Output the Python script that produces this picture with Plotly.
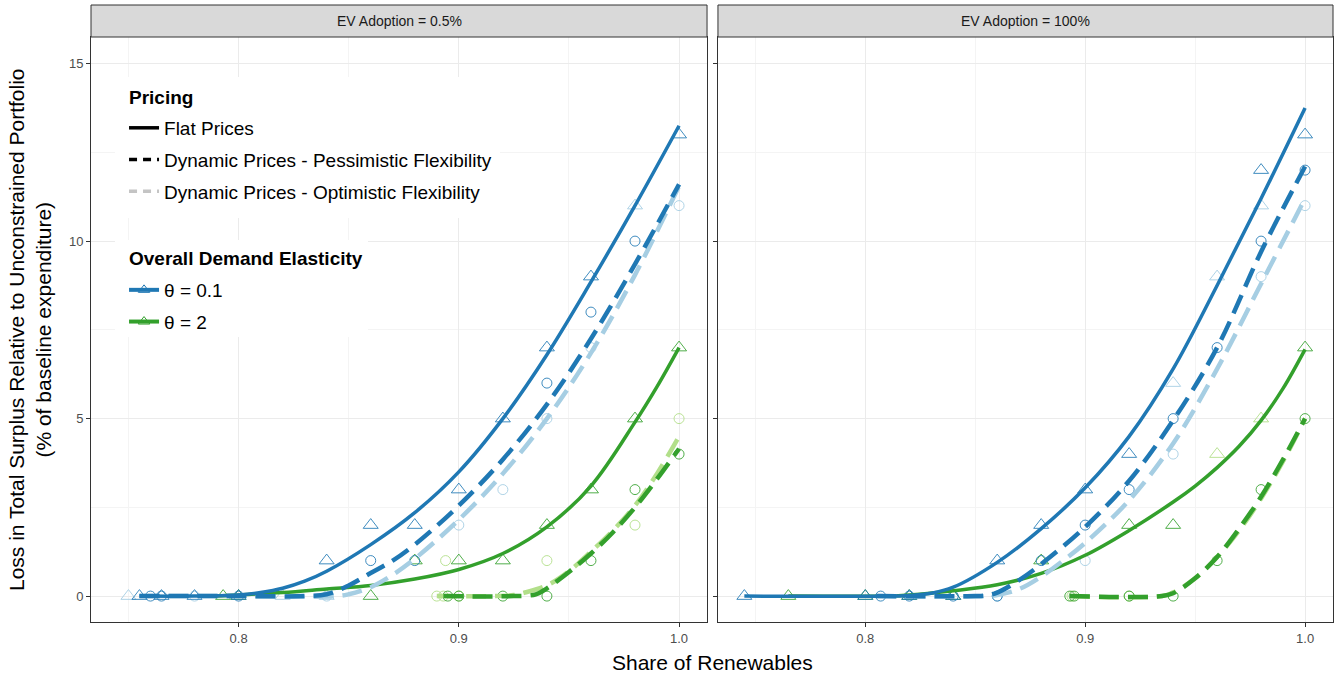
import plotly.graph_objects as go

# ---------------- data ----------------
panel_titles = ["EV Adoption = 0.5%", "EV Adoption = 100%"]
x_tick_vals = [0.8, 0.9, 1.0]
x_tick_text = ["0.8", "0.9", "1.0"]
y_tick_vals = [0, 5, 10, 15]
pricing_title = "Pricing"
pricing_labels = ["Flat Prices", "Dynamic Prices - Pessimistic Flexibility", "Dynamic Prices - Optimistic Flexibility"]
theta_title = "Overall Demand Elasticity"
theta_labels = ["θ = 0.1", "θ = 2"]

# fitted curves, left panel (EV 0.5%)
L_blue_flat_x = [0.755, 0.78, 0.80, 0.81, 0.82, 0.83, 0.84, 0.86, 0.88, 0.90, 0.92, 0.94, 0.96, 0.98, 1.0]
L_blue_flat_y = [0.0, 0.0, 0.03, 0.1, 0.22, 0.42, 0.7, 1.45, 2.35, 3.5, 5.0, 6.8, 8.85, 11.0, 13.25]
L_blue_pess_x = [0.755, 0.80, 0.83, 0.84, 0.85, 0.86, 0.87, 0.88, 0.90, 0.92, 0.94, 0.96, 0.98, 1.0]
L_blue_pess_y = [0.0, 0.0, 0.0, 0.05, 0.3, 0.65, 1.0, 1.45, 2.55, 3.85, 5.4, 7.25, 9.35, 11.6]
L_blue_opt_x = [0.755, 0.80, 0.845, 0.85, 0.86, 0.87, 0.88, 0.90, 0.92, 0.94, 0.96, 0.98, 1.0]
L_blue_opt_y = [0.0, 0.0, 0.0, 0.05, 0.25, 0.6, 1.05, 2.15, 3.45, 5.0, 6.85, 9.05, 11.55]
L_green_flat_x = [0.79, 0.82, 0.84, 0.86, 0.88, 0.90, 0.92, 0.94, 0.96, 0.98, 0.99, 1.0]
L_green_flat_y = [0.0, 0.1, 0.2, 0.3, 0.48, 0.75, 1.2, 1.95, 3.1, 4.9, 5.9, 7.0]
L_green_pess_x = [0.893, 0.925, 0.935, 0.94, 0.95, 0.96, 0.97, 0.98, 0.99, 1.0]
L_green_pess_y = [0.0, 0.0, 0.05, 0.22, 0.68, 1.2, 1.8, 2.5, 3.3, 4.15]
L_green_opt_x = [0.89, 0.915, 0.925, 0.93, 0.94, 0.95, 0.96, 0.97, 0.98, 0.99, 1.0]
L_green_opt_y = [0.0, 0.0, 0.03, 0.1, 0.3, 0.7, 1.25, 1.85, 2.55, 3.45, 4.5]

# fitted curves, right panel (EV 100%)
R_blue_flat_x = [0.745, 0.81, 0.82, 0.83, 0.84, 0.86, 0.88, 0.90, 0.92, 0.94, 0.96, 0.98, 1.0]
R_blue_flat_y = [0.0, 0.0, 0.02, 0.08, 0.25, 0.95, 1.9, 3.05, 4.5, 6.4, 8.75, 11.2, 13.75]
R_blue_pess_x = [0.805, 0.85, 0.855, 0.86, 0.87, 0.88, 0.90, 0.92, 0.94, 0.96, 0.98, 1.0]
R_blue_pess_y = [0.0, 0.0, 0.02, 0.1, 0.45, 0.9, 1.95, 3.25, 4.95, 7.0, 9.7, 12.1]
R_blue_opt_x = [0.805, 0.855, 0.86, 0.87, 0.88, 0.89, 0.90, 0.92, 0.94, 0.96, 0.98, 1.0]
R_blue_opt_y = [0.0, 0.0, 0.03, 0.2, 0.55, 1.0, 1.5, 2.7, 4.3, 6.4, 8.8, 11.2]
R_green_flat_x = [0.765, 0.81, 0.82, 0.84, 0.86, 0.88, 0.90, 0.92, 0.94, 0.95, 0.96, 0.97, 0.98, 0.99, 1.0]
R_green_flat_y = [0.0, 0.0, 0.03, 0.15, 0.32, 0.64, 1.15, 1.85, 2.65, 3.1, 3.62, 4.22, 4.95, 5.85, 6.95]
R_green_pess_x = [0.893, 0.935, 0.94, 0.95, 0.96, 0.97, 0.98, 0.99, 1.0]
R_green_pess_y = [0.0, 0.0, 0.08, 0.5, 1.1, 1.9, 2.8, 3.85, 5.0]
R_green_opt_x = [0.893, 0.935, 0.94, 0.95, 0.96, 0.97, 0.98, 0.99, 1.0]
R_green_opt_y = [0.0, 0.0, 0.1, 0.5, 1.1, 1.85, 2.75, 3.8, 5.0]

# simulated points, left panel
L_blue_tri_x = [0.755, 0.765, 0.78, 0.80, 0.84, 0.86, 0.88, 0.90, 0.92, 0.94, 0.96, 1.0]
L_blue_tri_y = [0, 0, 0, 0, 1, 2, 2, 3, 5, 7, 9, 13]
L_blue_tri_lt_x = [0.75, 0.82, 0.84, 0.98]
L_blue_tri_lt_y = [0, 0, 0, 11]
L_blue_circ_x = [0.76, 0.765, 0.80, 0.86, 0.88, 0.94, 0.96, 0.98]
L_blue_circ_y = [0, 0, 0, 1, 1, 6, 8, 10]
L_blue_circ_lt_x = [0.78, 0.84, 0.90, 0.92, 0.94, 0.96, 1.0]
L_blue_circ_lt_y = [0, 0, 2, 3, 5, 7, 11]
L_green_tri_x = [0.793, 0.80, 0.86, 0.88, 0.90, 0.92, 0.94, 0.96, 0.98, 1.0]
L_green_tri_y = [0, 0, 0, 1, 1, 1, 2, 3, 5, 7]
L_green_circ_x = [0.895, 0.90, 0.92, 0.94, 0.96, 0.98, 1.0]
L_green_circ_y = [0, 0, 0, 0, 1, 3, 4]
L_green_circ_lt_x = [0.89, 0.893, 0.894, 0.90, 0.94, 0.98, 1.0]
L_green_circ_lt_y = [0, 0, 1, 0, 1, 2, 5]

# simulated points, right panel
R_blue_tri_x = [0.745, 0.80, 0.82, 0.84, 0.86, 0.88, 0.90, 0.92, 0.98, 1.0]
R_blue_tri_y = [0, 0, 0, 0, 1, 2, 3, 4, 12, 13]
R_blue_tri_lt_x = [0.94, 0.96, 0.98]
R_blue_tri_lt_y = [6, 9, 11]
R_blue_circ_x = [0.807, 0.82, 0.84, 0.86, 0.88, 0.90, 0.92, 0.94, 0.96, 0.98, 1.0]
R_blue_circ_y = [0, 0, 0, 0, 1, 2, 3, 5, 7, 10, 12]
R_blue_circ_lt_x = [0.86, 0.90, 0.94, 0.98, 1.0]
R_blue_circ_lt_y = [0, 1, 4, 9, 11]
R_green_tri_x = [0.765, 0.80, 0.82, 0.84, 0.88, 0.92, 0.94, 1.0]
R_green_tri_y = [0, 0, 0, 0, 1, 2, 2, 7]
R_green_tri_lt_x = [0.96, 0.98]
R_green_tri_lt_y = [4, 5]
R_green_circ_x = [0.893, 0.895, 0.92, 0.94, 0.96, 0.98, 1.0]
R_green_circ_y = [0, 0, 0, 0, 1, 3, 5]
R_green_circ_lt_x = [0.894, 0.92]
R_green_circ_lt_y = [0, 0]

# ---------------- style ----------------
FONT = "Liberation Sans, Arial, sans-serif"
DB, LB = "#1f78b4", "#a6cee3"
DG, LG = "#33a02c", "#b2df8a"
DB_A, LB_A = "rgba(31,120,180,0.85)", "rgba(166,206,227,0.9)"
DG_A, LG_A = "rgba(51,160,44,0.85)", "rgba(178,223,138,0.9)"
DASH = "20px,9px"

fig = go.Figure()

def pts(x, y, xa, sym, col, size):
    fig.add_trace(go.Scatter(x=x, y=y, mode="markers", xaxis=xa, yaxis="y" if xa == "x" else "y2",
                             marker=dict(symbol=sym, size=size, color=col, line=dict(color=col, width=1)),
                             showlegend=False, hoverinfo="skip"))

def crv(x, y, xa, col, dash, w):
    fig.add_trace(go.Scatter(x=x, y=y, mode="lines", xaxis=xa, yaxis="y" if xa == "x" else "y2",
                             line=dict(color=col, width=w, dash=dash, shape="spline", smoothing=1.0),
                             showlegend=False, hoverinfo="skip"))

TRI, CIR = 13, 10
for xa, sets in [("x", [(L_green_circ_lt_x, L_green_circ_lt_y, "circle-open", LG_A, CIR),
                        (L_green_circ_x, L_green_circ_y, "circle-open", DG_A, CIR),
                        (L_green_tri_x, L_green_tri_y, "triangle-up-open", DG_A, TRI),
                        (L_blue_circ_lt_x, L_blue_circ_lt_y, "circle-open", LB_A, CIR),
                        (L_blue_circ_x, L_blue_circ_y, "circle-open", DB_A, CIR),
                        (L_blue_tri_lt_x, L_blue_tri_lt_y, "triangle-up-open", LB_A, TRI),
                        (L_blue_tri_x, L_blue_tri_y, "triangle-up-open", DB_A, TRI)]),
                 ("x2", [(R_green_circ_lt_x, R_green_circ_lt_y, "circle-open", LG_A, CIR),
                         (R_green_circ_x, R_green_circ_y, "circle-open", DG_A, CIR),
                         (R_green_tri_lt_x, R_green_tri_lt_y, "triangle-up-open", LG_A, TRI),
                         (R_green_tri_x, R_green_tri_y, "triangle-up-open", DG_A, TRI),
                         (R_blue_circ_lt_x, R_blue_circ_lt_y, "circle-open", LB_A, CIR),
                         (R_blue_circ_x, R_blue_circ_y, "circle-open", DB_A, CIR),
                         (R_blue_tri_lt_x, R_blue_tri_lt_y, "triangle-up-open", LB_A, TRI),
                         (R_blue_tri_x, R_blue_tri_y, "triangle-up-open", DB_A, TRI)])]:
    for (px, py, sym, col, sz) in sets:
        pts(px, py, xa, sym, col, sz)

crv(L_green_opt_x, L_green_opt_y, "x", LG, DASH, 4.5)
crv(L_green_pess_x, L_green_pess_y, "x", DG, DASH, 4.5)
crv(L_green_flat_x, L_green_flat_y, "x", DG, "solid", 3.5)
crv(L_blue_opt_x, L_blue_opt_y, "x", LB, DASH, 4.5)
crv(L_blue_pess_x, L_blue_pess_y, "x", DB, DASH, 4.5)
crv(L_blue_flat_x, L_blue_flat_y, "x", DB, "solid", 3.5)
crv(R_green_opt_x, R_green_opt_y, "x2", LG, DASH, 4.5)
crv(R_green_pess_x, R_green_pess_y, "x2", DG, DASH, 4.5)
crv(R_green_flat_x, R_green_flat_y, "x2", DG, "solid", 3.5)
crv(R_blue_opt_x, R_blue_opt_y, "x2", LB, DASH, 4.5)
crv(R_blue_pess_x, R_blue_pess_y, "x2", DB, DASH, 4.5)
crv(R_blue_flat_x, R_blue_flat_y, "x2", DB, "solid", 3.5)

# legend entries
for lab, col, dash, grp in zip(pricing_labels, ["black", "black", "#c4c4c4"], ["solid", "8px,6px", "8px,6px"], ["a", "b", "c"]):
    fig.add_trace(go.Scatter(x=[None], y=[None], mode="lines", name=lab, legend="legend", legendgroup=grp,
                             line=dict(color=col, width=3.5, dash=dash)))
for lab, col, grp in zip(theta_labels, [DB, DG], ["d", "e"]):
    fig.add_trace(go.Scatter(x=[None], y=[None], mode="lines+markers", name=lab, legend="legend2", legendgroup=grp,
                             line=dict(color=col, width=4),
                             marker=dict(symbol="triangle-up-open", size=10, color=col, line=dict(width=1))))

axis_common = dict(showline=True, mirror=True, linecolor="#333333", linewidth=1,
                   ticks="outside", ticklen=4, tickcolor="#333333", tickwidth=1,
                   gridcolor="#ebebeb", gridwidth=1, zeroline=False,
                   tickfont=dict(family=FONT, size=13, color="#4d4d4d"))
xr = [0.733, 1.0127]
yr = [-0.73, 15.75]
LEGF = 19
fig.update_layout(
    width=1338, height=677,
    margin=dict(l=91, r=5, t=37, b=55),
    plot_bgcolor="white", paper_bgcolor="white",
    font=dict(family=FONT, color="#000000"),
    xaxis=dict(domain=[0, 0.496], range=xr, tickvals=x_tick_vals, ticktext=x_tick_text,
               minor=dict(dtick=0.05, tick0=0.75, showgrid=True, gridcolor="#f4f4f4", gridwidth=1, ticks=""), **axis_common),
    xaxis2=dict(domain=[0.5048, 1], range=xr, tickvals=x_tick_vals, ticktext=x_tick_text, anchor="y2",
                minor=dict(dtick=0.05, tick0=0.75, showgrid=True, gridcolor="#f4f4f4", gridwidth=1, ticks=""), **axis_common),
    yaxis=dict(range=yr, tickvals=y_tick_vals,
               minor=dict(dtick=2.5, tick0=0, showgrid=True, gridcolor="#f4f4f4", gridwidth=1, ticks=""), **axis_common),
    yaxis2=dict(range=yr, tickvals=y_tick_vals, anchor="x2", showticklabels=False,
                minor=dict(dtick=2.5, tick0=0, showgrid=True, gridcolor="#f4f4f4", gridwidth=1, ticks=""), **axis_common),
    legend=dict(x=0.0266, y=0.877, xanchor="left", yanchor="top", bgcolor="rgba(0,0,0,0)",
                font=dict(family=FONT, size=LEGF), tracegroupgap=4, traceorder="grouped"),
    legend2=dict(x=0.0266, y=0.600, xanchor="left", yanchor="top", bgcolor="rgba(0,0,0,0)",
                 font=dict(family=FONT, size=LEGF), tracegroupgap=4, traceorder="grouped"),
)

shapes = []
annotations = []
for xd, title in zip(["x domain", "x2 domain"], panel_titles):
    shapes.append(dict(type="rect", xref=xd, yref="paper", x0=0, x1=1, y0=1.0, y1=1.0547,
                       fillcolor="#d9d9d9", line=dict(color="#333333", width=1), layer="above"))
    annotations.append(dict(xref=xd, yref="paper", x=0.5, y=1.0273, text=title, showarrow=False,
                            font=dict(family=FONT, size=14, color="#1a1a1a"), xanchor="center", yanchor="middle"))
# legend backgrounds and titles
shapes.append(dict(type="rect", xref="paper", yref="paper", x0=0.0193, x1=0.3293, y0=0.6906, y1=0.9316,
                   fillcolor="white", line=dict(width=0), layer="above"))
shapes.append(dict(type="rect", xref="paper", yref="paper", x0=0.0193, x1=0.223, y0=0.4872, y1=0.653,
                   fillcolor="white", line=dict(width=0), layer="above"))
annotations.append(dict(xref="paper", yref="paper", x=0.029, y=0.8974, text="<b>" + pricing_title + "</b>",
                        showarrow=False, xanchor="left", yanchor="middle", font=dict(family=FONT, size=LEGF)))
annotations.append(dict(xref="paper", yref="paper", x=0.029, y=0.6222, text="<b>" + theta_title + "</b>",
                        showarrow=False, xanchor="left", yanchor="middle", font=dict(family=FONT, size=LEGF)))
annotations.append(dict(xref="paper", yref="paper", x=0.5, y=-0.07, text="Share of Renewables", showarrow=False,
                        font=dict(family=FONT, size=21, color="#000000"), xanchor="center", yanchor="middle"))
annotations.append(dict(xref="paper", yref="paper", x=-0.0495, y=0.5, textangle=-90,
                        text="Loss in Total Surplus Relative to Unconstrained Portfolio<br>(% of baseline expenditure)",
                        showarrow=False, font=dict(family=FONT, size=21, color="#000000"),
                        xanchor="center", yanchor="middle"))
fig.update_layout(shapes=shapes, annotations=annotations)

fig.write_html("out.html")
